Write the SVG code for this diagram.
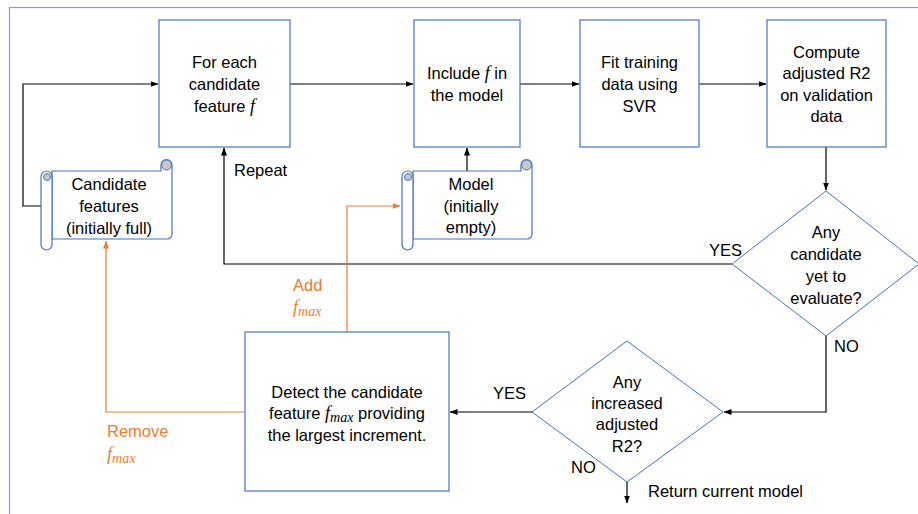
<svg xmlns="http://www.w3.org/2000/svg" width="918" height="514" viewBox="0 0 918 514">
<defs>
<marker id="ab" viewBox="0 0 8 8" refX="7.5" refY="4" markerWidth="8" markerHeight="8" markerUnits="userSpaceOnUse" orient="auto"><path d="M0,1 L8,4 L0,7 z" fill="#000"/></marker>
<marker id="ao" viewBox="0 0 8 8" refX="7.5" refY="4" markerWidth="8" markerHeight="8" markerUnits="userSpaceOnUse" orient="auto"><path d="M0,1 L8,4 L0,7 z" fill="#ED7D31"/></marker>
<style>
.box{fill:#fff;stroke:#4472C4;stroke-width:1.2}
.dia{fill:none;stroke:#4472C4;stroke-width:1}
.t{font-family:"Liberation Sans",Arial,sans-serif;font-size:16.5px;fill:#000;text-anchor:middle}
.l{font-family:"Liberation Sans",Arial,sans-serif;font-size:16.5px;fill:#000}
.o{fill:#ED7D31}
.m{font-family:"Liberation Serif","Times New Roman",serif;font-style:italic}
.c{fill:none;stroke:#000;stroke-width:1.2}
.co{fill:none;stroke:#ED7D31;stroke-width:1.2}
.curl{fill:#c8c8c8;stroke:#4472C4;stroke-width:1}
</style>
</defs>
<rect x="9.5" y="7.5" width="930" height="530" fill="none" stroke="#7F9FDA" stroke-width="1.2"/>

<g id="connectors">
<path class="c" d="M41,206 H23 V84 H158" marker-end="url(#ab)"/>
<path class="c" d="M290,84 H413" marker-end="url(#ab)"/>
<path class="c" d="M520,84 H579" marker-end="url(#ab)"/>
<path class="c" d="M699,84 H766" marker-end="url(#ab)"/>
<path class="c" d="M826,147 V190" marker-end="url(#ab)"/>
<path class="c" d="M732,264 H224 V148" marker-end="url(#ab)"/>
<path class="c" d="M826,336 V412 H724" marker-end="url(#ab)"/>
<path class="c" d="M532,412 H450" marker-end="url(#ab)"/>
<path class="c" d="M627,482 V503" marker-end="url(#ab)"/>
<path class="c" d="M467,171 V148" marker-end="url(#ab)"/>
<path class="co" d="M347,332 V206 H400" marker-end="url(#ao)"/>
<path class="co" d="M245,412 H106 V241" marker-end="url(#ao)"/>
<text class="l" x="234" y="176">Repeat</text>
<text class="l" x="709" y="256">YES</text>
<text class="l" x="834" y="352">NO</text>
<text class="l" x="493" y="399">YES</text>
<text class="l" x="571" y="473">NO</text>
<text class="l" x="648" y="497">Return current model</text>
<text class="l o" x="293" y="291">Add</text>
<text class="o" x="293" y="313" font-size="18"><tspan class="m">f</tspan><tspan class="m" font-size="14" dy="3">max</tspan></text>
<text class="l o" x="107" y="437">Remove</text>
<text class="o" x="107" y="460" font-size="18"><tspan class="m">f</tspan><tspan class="m" font-size="14" dy="3">max</tspan></text>
</g>

<g id="n-foreach">
<rect class="box" x="159" y="20" width="131" height="127"/>
<text class="t" x="224.5" y="68">For each</text>
<text class="t" x="224.5" y="90">candidate</text>
<text class="t" x="224.5" y="112">feature <tspan class="m" font-size="18">f</tspan></text>
</g>

<g id="n-include">
<rect class="box" x="414" y="20" width="106" height="127"/>
<text class="t" x="467" y="79">Include <tspan class="m" font-size="18">f</tspan> in</text>
<text class="t" x="467" y="101">the model</text>
</g>

<g id="n-fit">
<rect class="box" x="580" y="20" width="119" height="127"/>
<text class="t" x="639.5" y="68">Fit training</text>
<text class="t" x="639.5" y="90">data using</text>
<text class="t" x="639.5" y="112">SVR</text>
</g>

<g id="n-compute">
<rect class="box" x="767" y="20" width="119" height="127"/>
<text class="t" x="826.5" y="58">Compute</text>
<text class="t" x="826.5" y="79">adjusted R2</text>
<text class="t" x="826.5" y="101">on validation</text>
<text class="t" x="826.5" y="122">data</text>
</g>

<g id="n-anycand">
<path class="dia" d="M826,191 L919,264 L826,336 L732,264 Z"/>
<text class="t" x="826" y="238">Any</text>
<text class="t" x="826" y="260">candidate</text>
<text class="t" x="826" y="282">yet to</text>
<text class="t" x="826" y="304">evaluate?</text>
</g>

<g id="n-anyinc">
<path class="dia" d="M627,341 L723,412 L627,482 L532,412 Z"/>
<text class="t" x="627" y="388">Any</text>
<text class="t" x="627" y="409">increased</text>
<text class="t" x="627" y="430">adjusted</text>
<text class="t" x="627" y="452">R2?</text>
</g>

<g id="n-detect">
<rect class="box" x="245" y="332" width="204" height="159"/>
<text class="t" x="347" y="398">Detect the candidate</text>
<text class="t" x="347" y="419">feature <tspan class="m" font-size="18">f</tspan><tspan class="m" font-size="14" dy="3">max</tspan><tspan dy="-3"> providing</tspan></text>
<text class="t" x="347" y="441">the largest increment.</text>
</g>

<g id="n-candfeat">
<path class="box" d="M52,171 H161 V165 A5.5,5.5 0 0 1 172,165 V234 A5,5 0 0 1 167,239 H52 Z"/>
<rect class="box" x="41" y="171" width="11" height="79" rx="5.5"/>
<circle class="curl" cx="166.5" cy="165" r="5"/>
<circle class="curl" cx="47" cy="177" r="3.5"/>
<text class="t" x="109" y="190">Candidate</text>
<text class="t" x="109" y="212">features</text>
<text class="t" x="109" y="234">(initially full)</text>
</g>

<g id="n-model">
<path class="box" d="M413,171 H521 V165 A5.5,5.5 0 0 1 532,165 V234 A5,5 0 0 1 527,239 H413 Z"/>
<rect class="box" x="402" y="171" width="11" height="79" rx="5.5"/>
<circle class="curl" cx="526.5" cy="165" r="5"/>
<circle class="curl" cx="408" cy="177" r="3.5"/>
<text class="t" x="471" y="190">Model</text>
<text class="t" x="471" y="212">(initially</text>
<text class="t" x="471" y="233">empty)</text>
</g>
</svg>
